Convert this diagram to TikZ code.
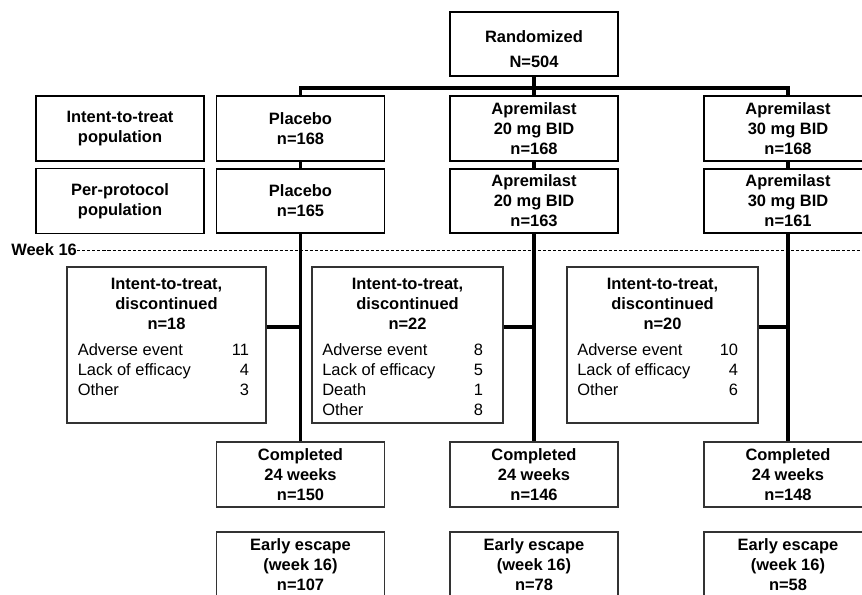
\documentclass[tikz,border=0pt]{standalone}
\usepackage{xcolor}
\usepackage{fontspec}
\setmainfont{Liberation Sans}
\usepackage{tikz}
\definecolor{BoxLine}{HTML}{333333}
\newcommand{\reasonline}[3]{\makebox[#1][l]{#2\hfill#3}}
\tikzset{
  txt/.style={font=\fontsize{11.7}{14.2}\selectfont},
  heavybox/.style={txt, draw, line width=1.3pt, align=center, font=\fontsize{11.7}{14.2}\selectfont\bfseries, minimum width=4.2cm, minimum height=1.6cm, inner sep=1pt},
  armbox/.style={txt, draw, line width=0.9pt, align=center, font=\fontsize{11.7}{14.2}\selectfont\bfseries, minimum width=4.2cm, minimum height=1.6cm, inner sep=1pt},
  outbox/.style={draw=BoxLine, line width=0.8pt, minimum height=3.9cm},
  link/.style={line width=2.2pt},
}

\begin{document}
\begin{tikzpicture}[x=0.025cm, y=-0.025cm]%
\clip (0,0) rectangle (862,594);%
% randomization and arms
\node[heavybox] (rand) at (534,44) {\rule{0pt}{15.5pt}Randomized\\[3.5pt]N=504};%
\node[heavybox, minimum height=1.625cm] (itt) at (120,128.5) {Intent-to-treat\\population};%
\node[heavybox, minimum height=1.625cm] (pp) at (120,201) {Per-protocol\\population};%
\node[armbox, minimum height=1.625cm] (plc1) at (300.5,128.5) {Placebo\\n=168};%
\node[armbox, minimum height=1.625cm] (aptwenty1) at (534,128.5) {Apremilast\\20 mg BID\\n=168};%
\node[armbox, minimum height=1.625cm] (apthirty1) at (788,128.5) {Apremilast\\30 mg BID\\n=168};%
\node[armbox] (plc2) at (300.5,201) {Placebo\\n=165};%
\node[armbox] (aptwenty2) at (534,201) {Apremilast\\20 mg BID\\n=163};%
\node[armbox] (apthirty2) at (788,201) {Apremilast\\30 mg BID\\n=161};%
% week 16 marker
\node[txt, font=\fontsize{11.7}{14.2}\selectfont\bfseries, anchor=west, inner sep=0pt] (wk) at (11,250) {Week 16};%
\coordinate (wkend) at (862,250);%
\draw[line width=0.7pt, dash pattern=on 2.2pt off 1.4pt] (wk.east) -- (wkend);%
% discontinued
\node[outbox, minimum width=4.975cm] (disc1) at (166.5,345) {};%
\node[outbox, minimum width=4.775cm] (disc2) at (407.5,345) {};%
\node[outbox, minimum width=4.775cm] (disc3) at (662.5,345) {};%
\node[txt, font=\fontsize{11.7}{14.2}\selectfont\bfseries, align=center, anchor=base, inner sep=0pt] (hd1) at (166.5,329) {Intent-to-treat,\\discontinued\\n=18};%
\node[txt, font=\fontsize{11.7}{14.2}\selectfont\bfseries, align=center, anchor=base, inner sep=0pt] (hd2) at (407.5,329) {Intent-to-treat,\\discontinued\\n=22};%
\node[txt, font=\fontsize{11.7}{14.2}\selectfont\bfseries, align=center, anchor=base, inner sep=0pt] (hd3) at (662.5,329) {Intent-to-treat,\\discontinued\\n=20};%
\node[txt, align=left, anchor=base west, inner sep=0pt] (why1) at (77.5,395.5) {\reasonline{4.28cm}{Adverse event}{11}\\\reasonline{4.28cm}{Lack of efficacy}{4}\\\reasonline{4.28cm}{Other}{3}};%
\node[txt, align=left, anchor=base west, inner sep=0pt] (why2) at (322,415.5) {\reasonline{4.02cm}{Adverse event}{8}\\\reasonline{4.02cm}{Lack of efficacy}{5}\\\reasonline{4.02cm}{Death}{1}\\\reasonline{4.02cm}{Other}{8}};%
\node[txt, align=left, anchor=base west, inner sep=0pt] (why3) at (577,395.5) {\reasonline{4.02cm}{Adverse event}{10}\\\reasonline{4.02cm}{Lack of efficacy}{4}\\\reasonline{4.02cm}{Other}{6}};%
% completers and early escape
\node[armbox, draw=BoxLine, line width=0.8pt, minimum height=1.625cm] (done1) at (300.5,474.5) {Completed\\24 weeks\\n=150};%
\node[armbox, draw=BoxLine, line width=0.8pt, minimum height=1.625cm] (done2) at (534,474.5) {Completed\\24 weeks\\n=146};%
\node[armbox, draw=BoxLine, line width=0.8pt, minimum height=1.625cm] (done3) at (788,474.5) {Completed\\24 weeks\\n=148};%
\node[armbox, draw=BoxLine, line width=0.8pt, minimum height=1.625cm] (esc1) at (300.5,564.5) {Early escape\\(week 16)\\n=107};%
\node[armbox, draw=BoxLine, line width=0.8pt, minimum height=1.625cm] (esc2) at (534,564.5) {Early escape\\(week 16)\\n=78};%
\node[armbox, draw=BoxLine, line width=0.8pt, minimum height=1.625cm] (esc3) at (788,564.5) {Early escape\\(week 16)\\n=58};%
% connectors
\draw[link] (rand) -- (aptwenty1);%
\draw[link] (plc1.north) -- (plc1.north |- 0,88) -| (apthirty1.north);%
\draw[link] (plc1) -- (plc2);%
\draw[link] (aptwenty1) -- (aptwenty2);%
\draw[link] (apthirty1) -- (apthirty2);%
\draw[link] (plc2) -- (done1);%
\draw[link] (aptwenty2) -- (done2);%
\draw[link] (apthirty2) -- (done3);%
\coordinate (j1) at (plc2.south |- 0,327);%
\coordinate (j2) at (aptwenty2.south |- 0,327);%
\coordinate (j3) at (apthirty2.south |- 0,327);%
\draw[link] (disc1.east |- j1) -- (j1);%
\draw[link] (disc2.east |- j2) -- (j2);%
\draw[link] (disc3.east |- j3) -- (j3);%
\end{tikzpicture}
\end{document}
